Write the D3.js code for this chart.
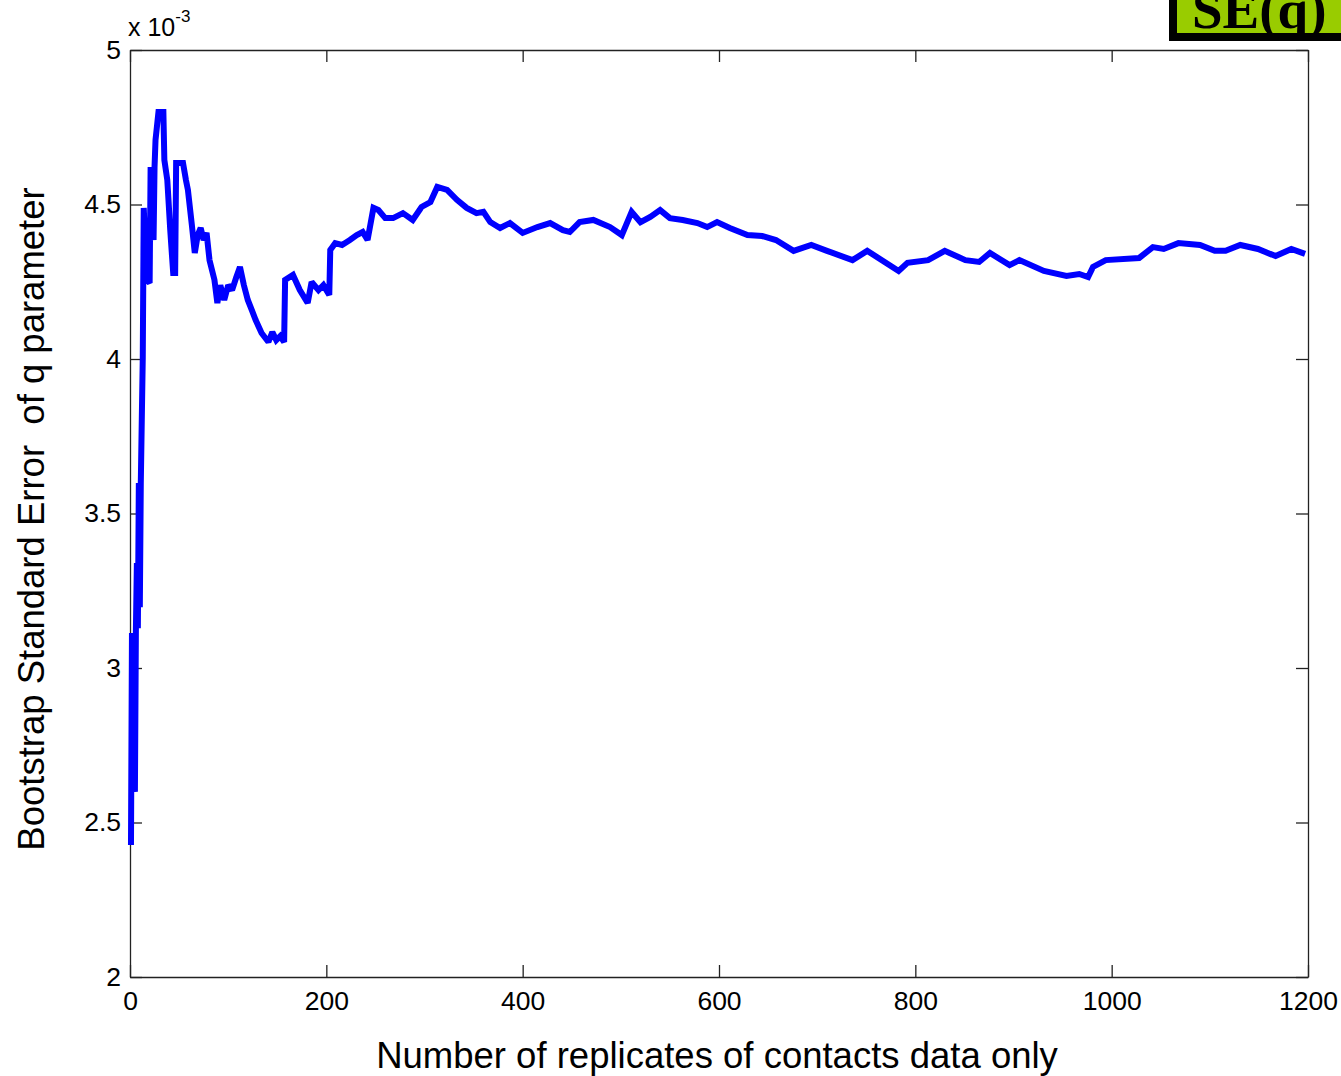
<!DOCTYPE html>
<html>
<head>
<meta charset="utf-8">
<script src="https://cdn.jsdelivr.net/npm/d3@7"></script>
<style>
  html, body { margin: 0; padding: 0; background: #fff; }
  svg { display: block; }
</style>
</head>
<body>
<svg id="chart" width="1341" height="1076"></svg>
<script>
// Replicate counts (x) and bootstrap SE of q (in units of 1e-3)
const replicates = [1,2,3,5,6,7,8,9,10,11,12,13,14,17,20,21,24,25,26,29,34,35,38,41,44,46,47,54,57,59,63,66,69,72,75,78,81,86,89,92,96,100,104,108,112,116,120,124,128,134,141,145,149,153,157,158,166,173,181,185,192,197,203,204,209,216,224,231,237,242,248,253,260,268,278,288,297,306,313,323,333,343,353,360,367,377,387,400,415,428,441,448,458,472,489,501,511,520,530,540,550,563,578,588,598,611,629,644,658,676,694,710,736,751,783,792,813,830,851,865,876,896,906,931,954,967,976,981,994,1028,1042,1053,1068,1090,1105,1116,1131,1149,1167,1183,1197];
const seValues = [2.427,3.113,2.896,2.599,3.123,3.340,3.129,3.599,3.197,3.599,3.803,4.003,4.489,4.256,4.246,4.621,4.385,4.621,4.709,4.799,4.799,4.644,4.579,4.417,4.278,4.278,4.634,4.634,4.579,4.547,4.434,4.343,4.401,4.424,4.385,4.408,4.320,4.256,4.181,4.239,4.191,4.239,4.223,4.262,4.298,4.239,4.191,4.159,4.126,4.084,4.055,4.087,4.061,4.074,4.055,4.256,4.272,4.223,4.181,4.249,4.223,4.239,4.207,4.353,4.375,4.369,4.385,4.401,4.411,4.385,4.489,4.482,4.456,4.456,4.472,4.450,4.492,4.508,4.557,4.547,4.515,4.489,4.472,4.476,4.443,4.424,4.440,4.408,4.427,4.440,4.417,4.411,4.443,4.450,4.427,4.401,4.476,4.443,4.460,4.482,4.456,4.450,4.440,4.427,4.443,4.424,4.401,4.398,4.385,4.350,4.369,4.350,4.320,4.350,4.285,4.311,4.320,4.350,4.320,4.314,4.343,4.304,4.320,4.285,4.269,4.275,4.265,4.298,4.320,4.327,4.362,4.356,4.375,4.369,4.350,4.350,4.369,4.356,4.333,4.356,4.340];

const xTicks = [0,200,400,600,800,1000,1200];
const yTicks = [2,2.5,3,3.5,4,4.5,5];
const yTickLabels = ["2","2.5","3","3.5","4","4.5","5"];

const xTitle = "Number of replicates of contacts data only";
const yTitle = "Bootstrap Standard Error  of q parameter";
const badgeText = "SE(q)";

const data = replicates.map((r, i) => ({ x: r, y: seValues[i] }));

const svg = d3.select("#chart");
const L = 130, R = 1308, T = 50, B = 977;

const x = d3.scaleLinear().domain([0, 1200]).range([L, R]);
const y = d3.scaleLinear().domain([2, 5]).range([B, T]);

const font = "'Liberation Sans', Arial, sans-serif";
const axisColor = "#222";

svg.append("rect").attr("x", L).attr("y", T).attr("width", R - L).attr("height", B - T).attr("fill", "#fff");

function styleAxis(g, showText) {
  g.selectAll("path.domain").attr("stroke", axisColor).attr("stroke-width", 1.3);
  g.selectAll(".tick line").attr("stroke", axisColor).attr("stroke-width", 1.3);
  g.selectAll(".tick text").attr("fill", "#000").style("font-family", font).style("font-size", "26.5px");
  if (!showText) g.selectAll(".tick text").remove();
}

const gx = svg.append("g").attr("transform", `translate(0,${B})`)
  .call(d3.axisBottom(x).tickValues(xTicks).tickSize(-12).tickSizeOuter(0).tickPadding(14).tickFormat(d3.format("d")));
styleAxis(gx, true);

const gxTop = svg.append("g").attr("transform", `translate(0,${T})`)
  .call(d3.axisTop(x).tickValues(xTicks).tickSize(-12).tickSizeOuter(0));
styleAxis(gxTop, false);

const gy = svg.append("g").attr("transform", `translate(${L},0)`)
  .call(d3.axisLeft(y).tickValues(yTicks).tickSize(-12).tickSizeOuter(0).tickPadding(9)
    .tickFormat((d, i) => yTickLabels[i]));
styleAxis(gy, true);

const gyRight = svg.append("g").attr("transform", `translate(${R},0)`)
  .call(d3.axisRight(y).tickValues(yTicks).tickSize(-12).tickSizeOuter(0));
styleAxis(gyRight, false);

// Line
const line = d3.line().x(d => x(d.x)).y(d => y(d.y));
svg.append("path")
  .datum(data)
  .attr("d", line)
  .attr("fill", "none")
  .attr("stroke", "#0000ff")
  .attr("stroke-width", 6)
  .attr("stroke-linejoin", "miter")
  .attr("stroke-miterlimit", 2);

// Exponent label
const expText = svg.append("text")
  .attr("x", L - 2).attr("y", 36)
  .style("font-family", font).style("font-size", "25px").attr("fill", "#000");
expText.append("tspan").text("x 10");
expText.append("tspan").attr("dy", -14).style("font-size", "17px").text("-3");

// X title
svg.append("text")
  .attr("x", 717).attr("y", 1068)
  .attr("text-anchor", "middle")
  .style("font-family", font).style("font-size", "36.5px").attr("fill", "#000")
  .text(xTitle);

// Y title (keeps the double space)
svg.append("text")
  .attr("transform", `translate(44,519) rotate(-90)`)
  .attr("text-anchor", "middle")
  .attr("xml:space", "preserve")
  .style("white-space", "pre")
  .style("font-family", font).style("font-size", "36.5px").attr("fill", "#000")
  .text(yTitle);

// Badge top-right
svg.append("rect")
  .attr("x", 1173).attr("y", -20).attr("width", 200).attr("height", 57)
  .attr("fill", "#99cc00").attr("stroke", "#000").attr("stroke-width", 8);
svg.append("text")
  .attr("x", 1192).attr("y", 28)
  .style("font-family", "'Liberation Serif', 'Times New Roman', serif")
  .style("font-weight", "bold").style("font-size", "55px").attr("fill", "#000")
  .text(badgeText);
</script>
</body>
</html>
